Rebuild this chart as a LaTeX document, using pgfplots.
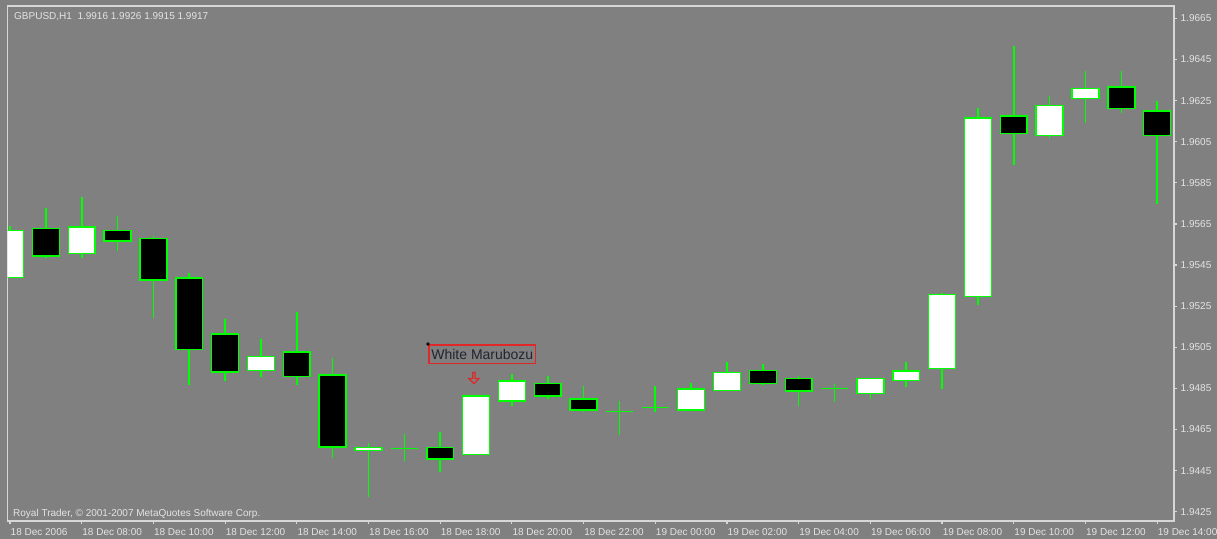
\documentclass[border=0pt]{standalone}
\usepackage{fontspec}
\setmainfont{Liberation Sans}
\usepackage{pgfplots}
\pgfplotsset{compat=1.18}
\usetikzlibrary{shapes.arrows}

\definecolor{bggray}{RGB}{128,128,128}
\definecolor{framecol}{RGB}{215,215,215}
\definecolor{labelcol}{RGB}{228,228,228}
\definecolor{limegreen}{RGB}{0,255,0}
\definecolor{annotred}{RGB}{225,40,40}
\definecolor{annottext}{RGB}{35,35,50}

% prices shifted to avoid tiny ranges: y = 100 + (price - 1.9) * 1000
% candle: position, body fill, low, body bottom, body top, high
\newcommand{\candle}[6]{%
  \pgfmathsetmacro\xl{#1-0.375}%
  \pgfmathsetmacro\xr{#1+0.375}%
  \addplot[limegreen, line width=1.6bp, forget plot] coordinates {(#1,#3) (#1,#6)};
  \addplot[draw=limegreen, fill=#2, line width=1.5bp, forget plot]
    coordinates {(\xl,#4) (\xr,#4) (\xr,#5) (\xl,#5)} -- cycle;}

\begin{document}
\begin{tikzpicture}
\useasboundingbox (0,0) rectangle (1217bp,539bp);
\fill[bggray] (0,0) rectangle (1217bp,539bp);

\begin{axis}[
at={(7.5bp,18bp)}, anchor=south west,
scale only axis,
width=1166.5bp, height=515bp,
xmin=-0.07, xmax=32.47,
ymin=142.05, ymax=167.10,
axis line style={framecol, line width=1.2bp},
tick align=outside,
major tick length=3bp,
tick style={framecol, line width=1.2bp},
xtick pos=bottom,
ytick pos=right,
xtick={0,2,...,32},
xticklabels={18 Dec 2006,18 Dec 08:00,18 Dec 10:00,18 Dec 12:00,18 Dec 14:00,18 Dec 16:00,18 Dec 18:00,18 Dec 20:00,18 Dec 22:00,19 Dec 00:00,19 Dec 02:00,19 Dec 04:00,19 Dec 06:00,19 Dec 08:00,19 Dec 10:00,19 Dec 12:00,19 Dec 14:00},
ytick={142.5,144.5,146.5,148.5,150.5,152.5,154.5,156.5,158.5,160.5,162.5,164.5,166.5},
yticklabels={1.9425,1.9445,1.9465,1.9485,1.9505,1.9525,1.9545,1.9565,1.9585,1.9605,1.9625,1.9645,1.9665},
xticklabel style={anchor=north west, inner sep=0pt, xshift=0.5bp, yshift=-4.5bp, text=labelcol, font=\fontsize{10bp}{12bp}\selectfont},
yticklabel style={anchor=west, inner sep=0pt, xshift=3.5bp, text=labelcol, font=\fontsize{10bp}{12bp}\selectfont},
clip=true,
]
\candle{0}{white}{153.87}{153.90}{156.17}{156.41}
\candle{1}{black}{154.86}{154.95}{156.27}{157.26}
\candle{2}{white}{154.86}{155.07}{156.36}{157.79}
\candle{3}{black}{155.18}{155.68}{156.17}{156.88}
\candle{4}{black}{151.94}{153.77}{155.78}{155.91}
\candle{5}{black}{148.66}{150.40}{153.87}{154.10}
\candle{6}{black}{148.86}{149.30}{151.14}{151.86}
\candle{7}{white}{149.07}{149.36}{150.04}{150.89}
\candle{8}{black}{148.66}{149.07}{150.27}{152.20}
\candle{9}{black}{145.13}{145.65}{149.16}{149.96}
\candle{10}{white}{143.23}{145.49}{145.63}{145.86}
\candle{11}{none}{144.97}{145.58}{145.58}{146.27}
\candle{12}{black}{144.43}{145.06}{145.63}{146.36}
\candle{13}{white}{145.29}{145.29}{148.13}{148.13}
\candle{14}{white}{147.66}{147.89}{148.86}{149.20}
\candle{15}{black}{147.98}{148.14}{148.73}{149.10}
\candle{16}{black}{147.37}{147.45}{147.98}{148.62}
\candle{17}{none}{146.23}{147.38}{147.38}{147.89}
\candle{18}{none}{147.37}{147.56}{147.56}{148.62}
\candle{19}{white}{147.38}{147.45}{148.48}{148.75}
\candle{20}{white}{148.35}{148.39}{149.28}{149.80}
\candle{21}{black}{148.66}{148.75}{149.36}{149.69}
\candle{22}{black}{147.64}{148.37}{148.97}{149.10}
\candle{23}{none}{147.85}{148.50}{148.50}{148.70}
\candle{24}{white}{147.97}{148.26}{148.97}{148.97}
\candle{25}{white}{148.55}{148.88}{149.34}{149.80}
\candle{26}{white}{148.45}{149.46}{153.06}{153.15}
\candle{27}{white}{152.56}{152.96}{161.65}{162.12}
\candle{28}{black}{159.36}{160.91}{161.76}{165.17}
\candle{29}{white}{160.69}{160.81}{162.25}{162.74}
\candle{30}{white}{161.39}{162.61}{163.08}{163.95}
\candle{31}{black}{161.88}{162.12}{163.17}{163.95}
\candle{32}{black}{157.47}{160.81}{161.99}{162.49}

% pattern annotation
\draw[annotred, line width=1.5bp] (axis cs:11.69,150.61) rectangle (axis cs:14.66,149.72);
\node[anchor=center, inner sep=0pt, text=annottext, font=\fontsize{14bp}{16bp}\selectfont]
  at (axis cs:13.175,150.15) {White Marubozu};
\draw[black, line width=0.8bp] (axis cs:11.66,150.66) circle (1.3bp);
\node[single arrow, draw=annotred, fill=none, line width=1.2bp, rotate=-90,
  minimum height=11bp, minimum width=10bp, single arrow head extend=2bp,
  single arrow head indent=0pt, inner sep=0pt, single arrow tip angle=90]
  at (axis cs:12.94,149.03) {};
\end{axis}

\node[anchor=base west, inner sep=0pt, text=labelcol, font=\fontsize{10bp}{12bp}\selectfont]
  at (14bp,519.5bp) {GBPUSD,H1\ \ 1.9916 1.9926 1.9915 1.9917};
\node[anchor=base west, inner sep=0pt, text=labelcol, font=\fontsize{10bp}{12bp}\selectfont]
  at (13bp,22.5bp) {Royal Trader, © 2001-2007 MetaQuotes Software Corp.};
\end{tikzpicture}
\end{document}
